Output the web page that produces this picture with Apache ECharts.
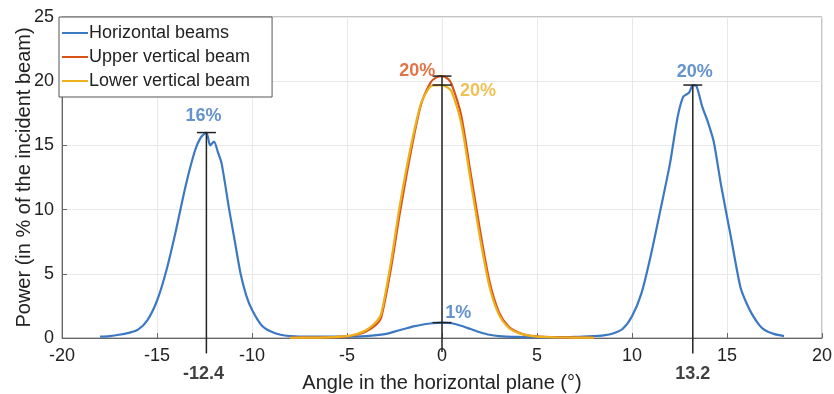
<!DOCTYPE html>
<html><head><meta charset="utf-8">
<script src="https://cdn.jsdelivr.net/npm/echarts@6/dist/echarts.min.js"></script>
<style>html,body{margin:0;padding:0;background:#fff}#c{width:834px;height:394px}</style>
</head><body><div id="c"></div>
<script>
// Horizontal beams
const hAngle = [-18,-17.5,-17,-16.5,-16,-15.5,-15,-14.5,-14,-13.5,-13,-12.7,-12.4,-12.2,-12,-11.8,-11.6,-11.2,-10.9,-10.6,-10.3,-10,-9.5,-9,-8.5,-8,-7,-6,-5,-4,-3,-2.5,-2,-1.5,-1,-0.5,0,0.5,1,1.5,2,2.5,3,4,5,6,7,8,8.5,9,9.5,10,10.5,11,11.5,12,12.4,12.7,13,13.2,13.4,13.7,14,14.3,14.7,15.2,15.7,16,16.3,16.7,17,17.5,18];
const hPower = [0.1,0.15,0.25,0.4,0.65,1.4,2.9,5.3,8.4,11.8,14.6,15.6,16.0,15.0,15.3,14.5,13.6,10.0,7.5,5.0,3.3,2.2,1.0,0.5,0.25,0.15,0.1,0.1,0.1,0.15,0.3,0.5,0.7,0.9,1.05,1.15,1.2,1.15,0.95,0.7,0.45,0.25,0.15,0.08,0.05,0.05,0.08,0.15,0.2,0.35,0.7,1.7,3.5,6.5,10.0,13.6,17.2,18.8,19.1,19.7,19.6,18.0,16.8,15.3,11.8,7.9,4.0,2.8,1.9,1.0,0.6,0.3,0.15];
// Upper vertical beam
const uAngle = [-8,-7,-6,-5,-4.5,-4,-3.5,-3.2,-2.7,-2.2,-1.6,-1.1,-0.6,-0.3,0,0.3,0.5,1,1.5,2,2.5,3,3.5,4,4.5,5,6,7,8];
const uPower = [0.02,0.03,0.05,0.12,0.25,0.5,1.0,1.6,5.3,9.9,14.8,18.2,19.9,20.3,20.4,20.2,19.8,17.4,12.9,8.4,4.4,2.0,0.9,0.45,0.2,0.12,0.06,0.03,0.02];
// Lower vertical beam
const lAngle = [-8,-7,-6,-5,-4.5,-4,-3.5,-3.2,-2.7,-2.2,-1.6,-1.1,-0.6,-0.2,0,0.3,0.5,1,1.5,2,2.5,3,3.5,4,4.5,5,6,7,8];
const lPower = [0.02,0.03,0.05,0.14,0.3,0.6,1.2,1.9,5.8,10.5,15.2,18.3,19.6,19.7,19.7,19.5,19.2,16.8,12.3,7.8,4.0,1.8,0.8,0.4,0.2,0.1,0.05,0.03,0.02];
// Peak markers
const peakAngle = [-12.4, 0, 0, 0, 13.2];
const peakPower = [16, 20.4, 19.7, 1.2, 19.7];
const dropBelow = [-1.2, -1.1, -1.2];
// Annotations
const noteText = ['16%','20%','20%','1%','20%','-12.4','13.2'];
const noteAngle = [-12.55,-1.3,1.9,0.85,13.3,-12.55,13.2];
const notePower = [17.3,20.8,19.2,1.95,20.7,-2.8,-2.8];
const noteColor = ['#3d78c2','#d95319','#e8b12a','#3d78c2','#3d78c2','#111','#111'];
const names = ['Horizontal beams','Upper vertical beam','Lower vertical beam'];
const colors = ['#3d78c2','#d95319','#edb120'];

const FONT = 'Liberation Sans, Arial, sans-serif';
const zip = (a,b)=>a.map((v,i)=>[v,b[i]]);
const blackLine = {type:'line', symbol:'none', clip:false, silent:true, z:5,
  lineStyle:{color:'#222', width:1.5}};
const series = [
  {name:names[0], type:'line', data:zip(hAngle,hPower), symbol:'none', smooth:0.25, lineStyle:{width:2.2,color:colors[0]}, itemStyle:{color:colors[0]}, z:2},
  {name:names[1], type:'line', data:zip(uAngle,uPower), symbol:'none', smooth:0.25, lineStyle:{width:2.2,color:colors[1]}, itemStyle:{color:colors[1]}, z:3},
  {name:names[2], type:'line', data:zip(lAngle,lPower), symbol:'none', smooth:0.25, lineStyle:{width:2.2,color:colors[2]}, itemStyle:{color:colors[2]}, z:4},
];
// vertical lines
const uniq = [...new Set(peakAngle)];
uniq.forEach((a,k)=>{
  const top = Math.max(...peakPower.filter((p,j)=>peakAngle[j]===a));
  series.push(Object.assign({}, blackLine, {data:[[a, dropBelow[k]],[a, top]]}));
});
peakAngle.forEach((a,i)=>{
  series.push(Object.assign({}, blackLine, {data:[[a-0.5, peakPower[i]],[a+0.5, peakPower[i]]]}));
});
series.push({type:'scatter', symbolSize:0, clip:false, silent:true, z:6,
  data: noteText.map((t,i)=>({value:[noteAngle[i], notePower[i]],
    label:{show:true, position:'inside', formatter:t, color:noteColor[i], fontWeight:'bold', fontSize:18, fontFamily:FONT}}))});

const chart = echarts.init(document.getElementById('c'));
chart.setOption({
  animation:false,
  textStyle:{fontFamily:FONT},
  grid:{left:62, right:12, top:17, bottom:56, containLabel:false, outerBoundsMode:'none',
    show:true, borderColor:'#8a8a8a', borderWidth:1, backgroundColor:'transparent'},
  legend:{data:names, orient:'vertical', left:59, top:17, icon:'rect', itemWidth:26, itemHeight:2, itemGap:6,
    backgroundColor:'#fff', borderColor:'#555', borderWidth:1, padding:[7,22,7,3],
    textStyle:{fontSize:18, color:'#222', padding:[0,0,0,-4]}},
  xAxis:{type:'value', min:-20, max:20, interval:5,
    name:'Angle in the horizontal plane (°)', nameLocation:'middle', nameGap:35, nameMoveOverlap:false,
    nameTextStyle:{fontSize:20, color:'#222'},
    axisLine:{onZero:false, lineStyle:{color:'#666'}}, axisTick:{inside:true, length:5, lineStyle:{color:'#666'}},
    axisLabel:{fontSize:18, color:'#222', margin:9},
    splitLine:{lineStyle:{color:'#e8e8e8'}}},
  yAxis:{type:'value', min:0, max:25, interval:5,
    name:'Power (in % of the incident beam)', nameLocation:'middle', nameGap:28, nameMoveOverlap:false,
    nameTextStyle:{fontSize:20, color:'#222'},
    axisLine:{show:true, onZero:false, lineStyle:{color:'#666'}}, axisTick:{show:true, inside:true, length:5, lineStyle:{color:'#666'}},
    axisLabel:{fontSize:18, color:'#222', margin:8},
    splitLine:{lineStyle:{color:'#e8e8e8'}}},
  series
});
</script></body></html>
